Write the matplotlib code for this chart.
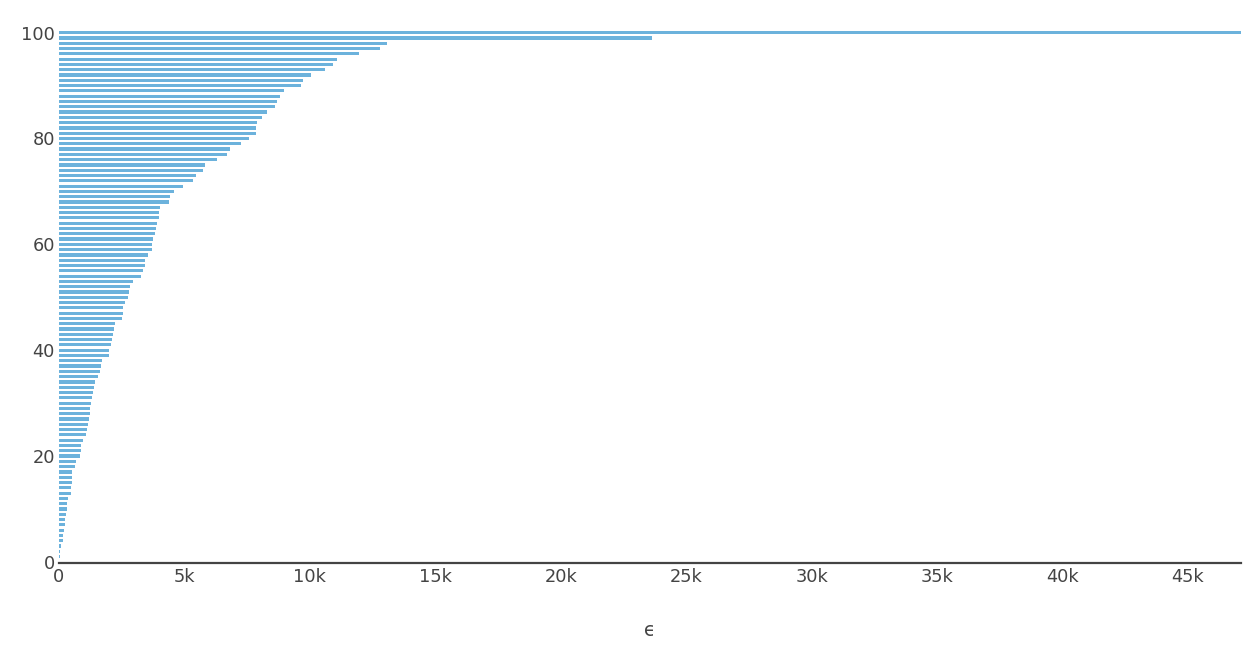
import matplotlib
matplotlib.use("Agg")
import matplotlib.pyplot as plt
from matplotlib.ticker import FuncFormatter

# rank (0..100) and epsilon value of each bar
ranks = list(range(101))
eps_values = [
    0, 27, 40, 80, 147, 160, 200, 227, 227, 267,
    307, 320, 360, 467, 493, 507, 520, 520, 627, 667,
    827, 867, 880, 947, 1067, 1120, 1173, 1200, 1227, 1253,
    1267, 1307, 1347, 1400, 1453, 1547, 1627, 1680, 1733, 1973,
    1987, 2067, 2120, 2160, 2173, 2227, 2507, 2533, 2547, 2640,
    2747, 2787, 2813, 2947, 3267, 3347, 3427, 3440, 3533, 3693,
    3707, 3747, 3827, 3853, 3907, 3973, 3987, 4027, 4387, 4427,
    4600, 4960, 5360, 5453, 5747, 5827, 6280, 6693, 6813, 7267,
    7587, 7840, 7853, 7907, 8107, 8280, 8613, 8693, 8800, 8973,
    9627, 9707, 10027, 10600, 10933, 11067, 11947, 12800, 13093, 23640,
    47100,
]
x_ticks = [0, 5000, 10000, 15000, 20000, 25000, 30000, 35000, 40000, 45000]
y_ticks = [0, 20, 40, 60, 80, 100]

W, H = 1252, 645
fig = plt.figure(figsize=(W / 100, H / 100), dpi=100)
ax = fig.add_axes([59 / W, 1 - 562.7 / H, (1240.7 - 59) / W, (562.7 - 30) / H])

ax.barh(ranks, eps_values, height=0.6, color="#6cb2dc", linewidth=0)

ax.set_xlim(0, max(eps_values))
ax.set_ylim(-0.15, 100.5)
ax.set_xticks(x_ticks)
ax.set_yticks(y_ticks)
ax.xaxis.set_major_formatter(FuncFormatter(lambda v, _: "0" if v == 0 else f"{int(v / 1000)}k"))

for side in ("top", "right", "left"):
    ax.spines[side].set_visible(False)
ax.spines["bottom"].set_color("#444444")
ax.spines["bottom"].set_linewidth(1.6)

ax.tick_params(axis="both", length=0, labelsize=12.8, colors="#444444")
ax.tick_params(axis="x", pad=4)
ax.tick_params(axis="y", pad=3)

fig.text(649.5 / W, 1 - 630 / H, "ϵ", ha="center", va="center", fontsize=13.5, color="#444444")

fig.savefig("out.png", dpi=100)
